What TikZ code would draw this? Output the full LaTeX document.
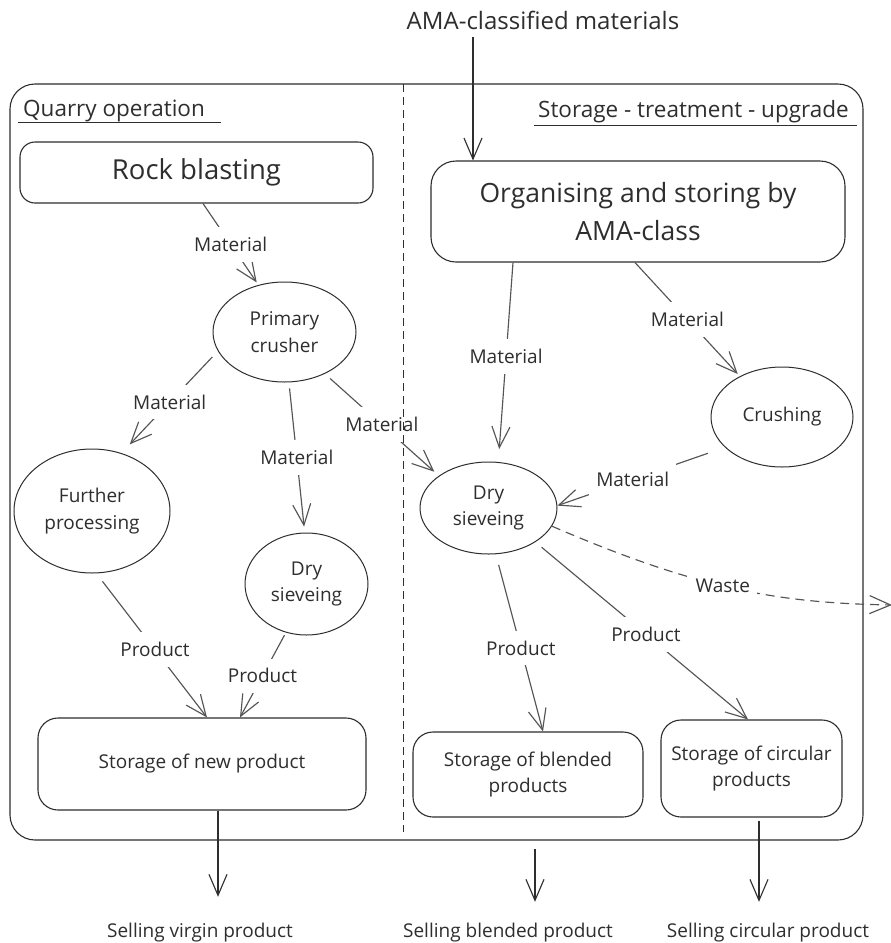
\documentclass[tikz,border=0pt]{standalone}
\usepackage{fontspec}
\setmainfont{Open Sans}
\usetikzlibrary{shapes.geometric,arrows.meta}
\definecolor{ink}{HTML}{2E2E2E}
\definecolor{wire}{HTML}{555555}
\newcommand\fsz[2]{\fontsize{#1}{#2}\selectfont}
\begin{document}
\begin{tikzpicture}[x=1pt,y=-1pt,
  every node/.style={text=ink},
  stepbox/.style={draw=ink, line width=1.1pt, align=center, inner sep=0pt},
  oval/.style={ellipse, draw=ink, line width=1pt, align=center, inner sep=0pt, font=\fsz{19}{26.5}},
  lbl/.style={fill=white, inner xsep=7pt, inner ysep=10pt, font=\fsz{19}{23}},
  barb/.style={-{Straight Barb[length=21pt,width=18pt]}},
  flow/.style={draw=wire, line width=1.15pt, barb},
  outflow/.style={draw=ink, line width=1.1pt, barb},
  caption/.style={inner sep=0pt, font=\fsz{19}{23}},
]
\fill[white] (0,0) rectangle (891,943);
\useasboundingbox (0,0) rectangle (891,943);

% outer frame and section titles
\draw[ink, line width=1.1pt, rounded corners=25pt] (10,84) rectangle (863,840);
\node[anchor=base west, inner sep=0pt, font=\fsz{22.5}{27}] (qo) at (23,116) {Quarry operation};
\draw[ink, line width=1pt] (18,122.5) -- (221,122.5);
\node[anchor=base west, inner sep=0pt, font=\fsz{22.5}{27}] (stu) at (538,117) {Storage - treatment - upgrade};
\draw[ink, line width=1pt] (534,125) -- (857,125);
\node[anchor=base, inner sep=0pt, font=\fsz{24}{28}] (ama) at (543,29) {AMA-classified materials};

% process boxes
\node[stepbox, rounded corners=15pt, minimum width=353pt, minimum height=61pt, font=\fsz{27.5}{31}] (rb) at (196.5,172.5) {Rock blasting};
\node[stepbox, rounded corners=25pt, minimum width=414pt, minimum height=101pt, font=\fsz{26.5}{38}] (org) at (638,211.5) {Organising and storing by\\AMA-class};
\node[oval, minimum width=143pt, minimum height=100pt] (pc) at (284.5,332) {Primary\\crusher};
\node[oval, minimum width=156pt, minimum height=124pt] (fp) at (92,511) {Further\\processing};
\node[oval, minimum width=123pt, minimum height=102pt] (ds1) at (306.5,584) {Dry\\sieveing};
\node[oval, minimum width=142pt, minimum height=100pt] (cr) at (782,417) {Crushing};
\node[oval, minimum width=137pt, minimum height=92pt] (ds2) at (488.5,508) {Dry\\sieveing};
\node[stepbox, rounded corners=20pt, minimum width=328pt, minimum height=92pt, font=\fsz{19}{26}] (sn) at (202,764) {Storage of new product};
\node[stepbox, rounded corners=20pt, minimum width=230pt, minimum height=85pt, font=\fsz{19}{26}] (sb) at (528,774.5) {Storage of blended\\products};
\node[stepbox, rounded corners=20pt, minimum width=181pt, minimum height=97pt, font=\fsz{19}{26}] (sc) at (751.5,768.5) {Storage of circular\\products};

% sales outlets
\node[caption, anchor=base] (sv) at (200,937) {Selling virgin product};
\node[caption, anchor=base] (sbl) at (508,937) {Selling blended product};
\node[caption, anchor=base] (scl) at (768,937) {Selling circular product};

% material flows
\draw[flow, shorten >=3pt] ([xshift=6.5pt]rb.south) -- (pc.119) node[lbl, pos=.5] {Material};
\draw[flow, shorten <=8pt, shorten >=12pt] (pc.196) -- (fp.63) node[lbl, pos=.5] {Material};
\draw[flow, shorten <=6pt, shorten >=6pt] (pc.-85) -- (ds1.92) node[lbl, pos=.5] {Material};
\draw[flow, shorten <=7pt, shorten >=6pt] (pc.-46) -- (ds2.147) node[lbl, pos=.5] {Material};
\draw[flow, shorten >=13pt] ([xshift=-125pt]org.south) -- (ds2.78) node[lbl, pos=.47] {Material};
\draw[flow, shorten >=3pt] ([xshift=-3pt]org.south) -- (cr.136) node[lbl, pos=.5] {Material};
\draw[flow, shorten <=18pt] (cr.208) -- (ds2.2) node[lbl, pos=.55] {Material};

% product flows
\draw[flow, shorten <=10pt] (fp.-86) -- ([xshift=5pt]sn.north) node[lbl, pos=.53] {Product};
\draw[flow, shorten <=3pt] (ds1.-113) -- ([xshift=38pt]sn.north) node[lbl, pos=.51] {Product};
\draw[flow, shorten <=11pt] (ds2.-81) -- ([xshift=15pt]sb.north) node[lbl, pos=.53] {Product};
\draw[flow, shorten <=8pt] (ds2.-36) -- ([xshift=-3.5pt]sc.north) node[lbl, pos=.52] {Product};

% waste leaves the site
\coordinate (wout) at (892,605);
\draw[flow, dash pattern=on 9pt off 6pt] (ds2.-16) .. controls (700,590) and (780,603) .. (wout) node[lbl, pos=.46] {Waste};

% inputs and outputs
\coordinate (amain) at ([xshift=-70pt]ama.south);
\draw[outflow, shorten <=8pt] (amain) -- (amain |- org.north);
\coordinate (snout) at ([xshift=16pt]sn.south);
\draw[outflow, shorten >=25.6pt] (snout) -- (snout |- sv.north);
\coordinate (sbout) at (535,849);
\draw[outflow, shorten >=20.6pt] (sbout) -- (sbout |- sbl.north);
\coordinate (scout) at ([xshift=7.5pt]sc.south);
\draw[outflow, shorten <=3pt, shorten >=20.6pt] (scout) -- (scout |- scl.north);

% divider between the two areas
\draw[ink, line width=1pt, dash pattern=on 8pt off 5pt] (403,84) -- (403,832);
\end{tikzpicture}
\end{document}
